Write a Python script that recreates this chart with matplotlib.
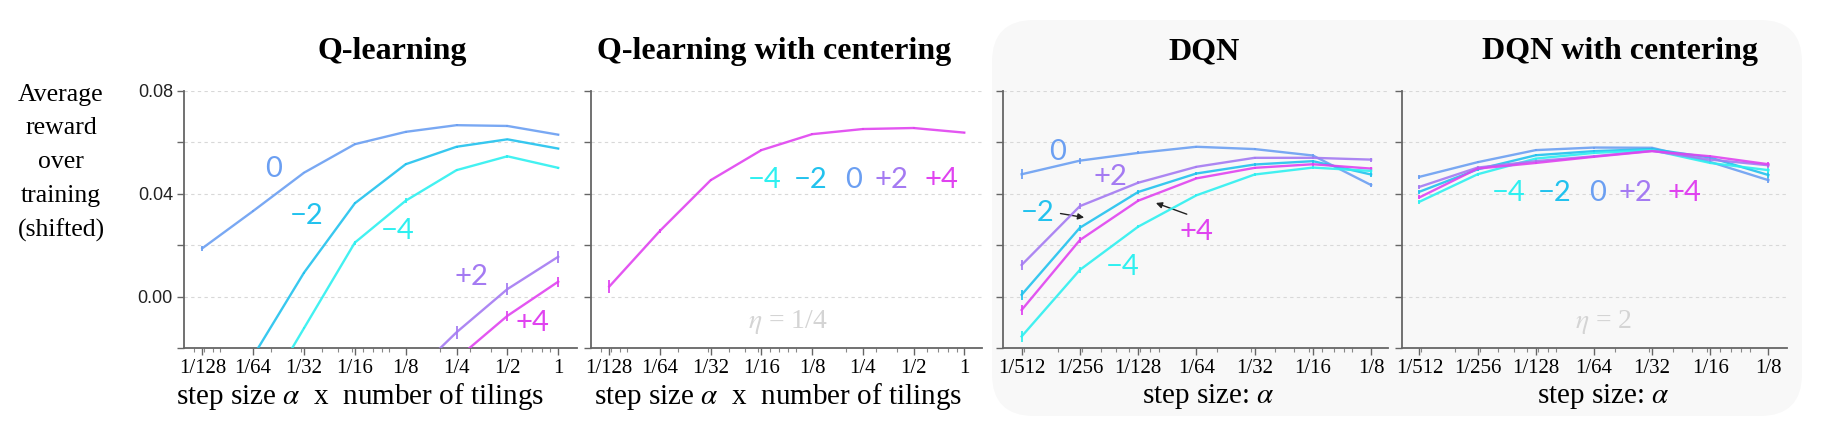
import numpy as np
import matplotlib
matplotlib.use('Agg')
import matplotlib.pyplot as plt
from matplotlib.patches import FancyBboxPatch
from matplotlib.ticker import FixedLocator, LogLocator, NullFormatter, FixedFormatter, FuncFormatter

plt.rcParams['mathtext.fontset'] = 'stix'

SERIF = 'Liberation Serif'
SANS = 'Liberation Sans'
NUM_FONT = 'Lato'
nan = np.nan

shifts = ['−4', '−2', '0', '+2', '+4']
colors = {'−4': '#2ef0f0', '−2': '#22c2ee', '0': '#6b9ff2',
          '+2': '#a47af2', '+4': '#e043f0'}

# tabular runs: step size x number of tilings
tc_steps = [1/128, 1/64, 1/32, 1/16, 1/8, 1/4, 1/2, 1]
tc_labels = ['1/128', '1/64', '1/32', '1/16', '1/8', '1/4', '1/2', '1']

q_mean = {
    '0':  [0.0188, 0.0333, 0.0482, 0.0593, 0.0641, 0.0667, 0.0664, 0.0630],
    '−2': [nan, -0.0232, 0.0093, 0.0363, 0.0515, 0.0583, 0.0612, 0.0576],
    '−4': [nan, -0.0456, -0.0123, 0.0210, 0.0373, 0.0492, 0.0546, 0.0501],
    '+2': [nan, nan, nan, nan, -0.0331, -0.0139, 0.0029, 0.0155],
    '+4': [nan, nan, nan, nan, nan, -0.0243, -0.0075, 0.0058],
}
q_err = {
    '0':  [0.0010, 0.0005, 0.0003, 0.0003, 0.0003, 0.0003, 0.0003, 0.0003],
    '−2': [0, 0.0005, 0.0004, 0.0004, 0.0003, 0.0003, 0.0003, 0.0003],
    '−4': [0, 0.0005, 0.0005, 0.0008, 0.0010, 0.0005, 0.0005, 0.0005],
    '+2': [0, 0, 0, 0, 0.0025, 0.0026, 0.0023, 0.0023],
    '+4': [0, 0, 0, 0, 0, 0.0020, 0.0020, 0.0020],
}

qc_mean = [0.0039, 0.0256, 0.0453, 0.0570, 0.0632, 0.0652, 0.0656, 0.0638]
qc_err = [0.0025, 0.0008, 0.0003, 0.0003, 0.0003, 0.0003, 0.0003, 0.0003]

# DQN runs: step size
dqn_steps = [1/512, 1/256, 1/128, 1/64, 1/32, 1/16, 1/8]
dqn_labels = ['1/512', '1/256', '1/128', '1/64', '1/32', '1/16', '1/8']

dqn_mean = {
    '0':  [0.0476, 0.0529, 0.0559, 0.0583, 0.0574, 0.0549, 0.0434],
    '+2': [0.0123, 0.0352, 0.0443, 0.0505, 0.0540, 0.0540, 0.0533],
    '−2': [0.0007, 0.0268, 0.0407, 0.0479, 0.0514, 0.0527, 0.0475],
    '+4': [-0.0052, 0.0220, 0.0373, 0.0460, 0.0501, 0.0515, 0.0498],
    '−4': [-0.0155, 0.0104, 0.0272, 0.0394, 0.0475, 0.0502, 0.0489],
}
dqn_err = {k: [0.0020, 0.0012, 0.0006, 0.0004, 0.0004, 0.0006, 0.0008] for k in shifts}

dqnc_mean = {
    '0':  [0.0466, 0.0523, 0.0570, 0.0580, 0.0579, 0.0524, 0.0453],
    '+2': [0.0427, 0.0502, 0.0527, 0.0546, 0.0567, 0.0533, 0.0511],
    '−2': [0.0408, 0.0495, 0.0550, 0.0566, 0.0574, 0.0541, 0.0473],
    '−4': [0.0369, 0.0476, 0.0537, 0.0559, 0.0570, 0.0520, 0.0492],
    '+4': [0.0386, 0.0498, 0.0520, 0.0544, 0.0566, 0.0546, 0.0515],
}
dqnc_err = {k: [0.0008, 0.0005, 0.0004, 0.0004, 0.0004, 0.0005, 0.0010] for k in shifts}


W, H = 1830, 436
fig = plt.figure(figsize=(W / 100, H / 100), dpi=100)

# light rounded panel behind the DQN plots
bg = FancyBboxPatch((9.92, 0.20), 8.10, 3.96, boxstyle='round,pad=0,rounding_size=0.42',
                    transform=fig.dpi_scale_trans, facecolor='#f8f8f8', edgecolor='none',
                    zorder=-5)
fig.patches.append(bg)


def px_axes(left, right, top=91, bottom=348):
    return fig.add_axes([left / W, 1 - bottom / H, (right - left) / W, (bottom - top) / H])


def style(ax, steps, labels, margin_lo, margin_hi, ylabels=False):
    ax.set_xscale('log', base=2)
    lo, hi = np.log2(steps[0]), np.log2(steps[-1])
    ax.set_xlim(2 ** (lo - margin_lo), 2 ** (hi + margin_hi))
    ax.set_ylim(-0.02, 0.08)
    ax.xaxis.set_major_locator(FixedLocator(steps))
    ax.xaxis.set_major_formatter(FixedFormatter(labels))
    ax.xaxis.set_minor_locator(LogLocator(base=10, subs=np.arange(1, 10)))
    ax.xaxis.set_minor_formatter(NullFormatter())
    ax.yaxis.set_major_locator(FixedLocator([-0.02, 0.0, 0.02, 0.04, 0.06, 0.08]))
    if ylabels:
        ax.yaxis.set_major_formatter(FuncFormatter(
            lambda v, p: f'{v:.2f}' if round(v * 100) % 4 == 0 and v > -0.01 else ''))
    else:
        ax.yaxis.set_major_formatter(NullFormatter())
    for s in ['top', 'right']:
        ax.spines[s].set_visible(False)
    for s in ['left', 'bottom']:
        ax.spines[s].set_color('#666666')
        ax.spines[s].set_linewidth(1.3)
    ax.tick_params(axis='both', which='major', length=5, width=1, color='#666666')
    ax.tick_params(axis='x', which='minor', length=3, width=0.8, color='#888888')
    ax.tick_params(axis='x', labelsize=15, pad=3)
    ax.tick_params(axis='y', labelsize=13, pad=3, labelcolor='#222222')
    for lab in ax.get_xticklabels():
        lab.set_family(SERIF)
    for lab in ax.get_yticklabels():
        lab.set_family(SANS)
    for yv in [0.0, 0.02, 0.04, 0.06, 0.08]:
        ax.axhline(yv, color='#d8d8d8', lw=0.8, ls=(0, (3, 3)), zorder=0)
    ax.patch.set_alpha(0)


def draw(ax, steps, mean, err, color):
    ax.errorbar(steps, mean, yerr=err, color=color, lw=1.7, elinewidth=1.4,
                capsize=0, alpha=0.9, zorder=3)


def num_label(ax, lx, y, text, color):
    ax.text(2 ** lx, y, text, color=color, fontsize=21, family=NUM_FONT,
            ha='center', va='center', zorder=5)


# Q-learning
ax1 = px_axes(184, 577)
style(ax1, tc_steps, tc_labels, 0.36, 0.37, ylabels=True)
for k in ['0', '−2', '−4', '+2', '+4']:
    draw(ax1, tc_steps, q_mean[k], q_err[k], colors[k])
for k, lx, y in [('0', -5.6, 0.0496), ('−2', -4.95, 0.0313), ('−4', -3.16, 0.0255),
                 ('+2', -1.70, 0.0077), ('+4', -0.50, -0.0102)]:
    num_label(ax1, lx, y, k, colors[k])

# Q-learning with centering
ax2 = px_axes(591, 982)
style(ax2, tc_steps, tc_labels, 0.36, 0.35)
draw(ax2, tc_steps, qc_mean, qc_err, colors['+4'])
for k, lx in zip(shifts, [-3.93, -3.03, -2.18, -1.44, -0.45]):
    num_label(ax2, lx, 0.0452, k, colors[k])
ax2.text(2 ** -3.48, -0.0099, r'$\eta$ = 1/4', color='#d4d4d4', fontsize=20,
         family=SERIF, ha='center', va='center')

# DQN
ax3 = px_axes(1003, 1388)
style(ax3, dqn_steps, dqn_labels, 0.32, 0.29)
for k in ['0', '+2', '−2', '+4', '−4']:
    draw(ax3, dqn_steps, dqn_mean[k], dqn_err[k], colors[k])
num_label(ax3, -8.38, 0.0562, '0', colors['0'])
num_label(ax3, -7.48, 0.0465, '+2', colors['+2'])
num_label(ax3, -8.72, 0.0325, '−2', colors['−2'])
num_label(ax3, -6.0, 0.0251, '+4', colors['+4'])
num_label(ax3, -7.26, 0.0115, '−4', colors['−4'])
arrow = dict(arrowstyle='-|>', color='#222222', lw=1.0, mutation_scale=9)
ax3.annotate('', xy=(2 ** -7.88, 0.0306), xytext=(2 ** -8.38, 0.0325), arrowprops=arrow)
ax3.annotate('', xy=(2 ** -6.74, 0.0368), xytext=(2 ** -6.12, 0.0317), arrowprops=arrow)

# DQN with centering
ax4 = px_axes(1402, 1787)
style(ax4, dqn_steps, dqn_labels, 0.30, 0.32)
for k in ['0', '−2', '−4', '+2', '+4']:
    draw(ax4, dqn_steps, dqnc_mean[k], dqnc_err[k], colors[k])
for k, lx in zip(shifts, [-7.46, -6.67, -5.93, -5.28, -4.44]):
    num_label(ax4, lx, 0.0403, k, colors[k])
ax4.text(2 ** -5.83, -0.0099, r'$\eta$ = 2', color='#d4d4d4', fontsize=20,
         family=SERIF, ha='center', va='center')

# titles and axis labels
title_kw = dict(fontsize=23, fontweight='bold', family=SERIF, ha='center', va='center')
for x, t in [(392, 'Q-learning'), (774, 'Q-learning with centering'),
             (1204, 'DQN'), (1620, 'DQN with centering')]:
    fig.text(x / W, 1 - 52 / H, t, **title_kw)

xl_kw = dict(fontsize=21, family=SERIF, ha='center', va='center')
for x, t in [(360, r'step size $\alpha$  x  number of tilings'),
             (778, r'step size $\alpha$  x  number of tilings'),
             (1208, r'step size: $\alpha$'), (1603, r'step size: $\alpha$')]:
    fig.text(x / W, 1 - 396 / H, t, **xl_kw)

fig.text(61 / W, 1 - 163 / H, 'Average\nreward\nover\ntraining\n(shifted)', fontsize=18.5,
         family=SERIF, ha='center', va='center', linespacing=1.68)

fig.savefig('out.png', dpi=100, facecolor='white')
